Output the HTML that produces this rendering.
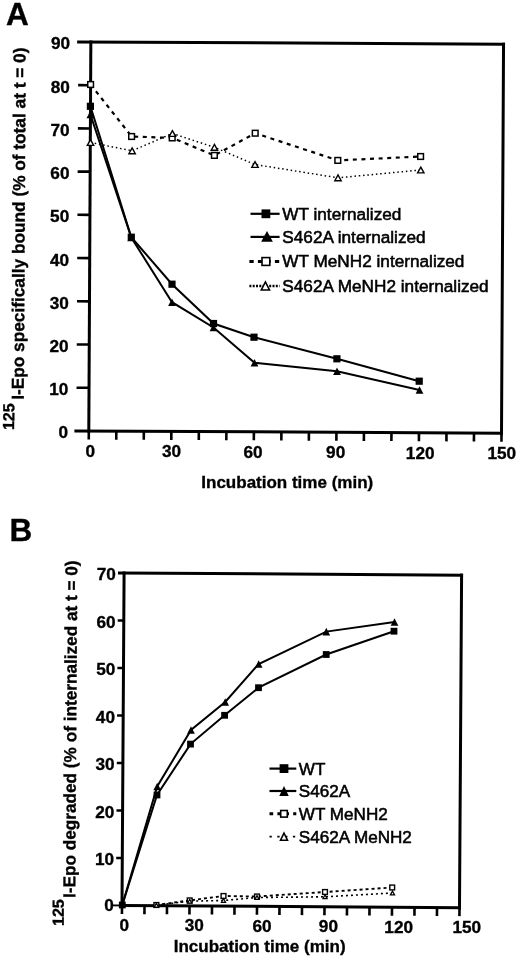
<!DOCTYPE html>
<html><head><meta charset="utf-8"><style>
html,body{margin:0;padding:0;background:#fff;}
body{width:520px;height:960px;overflow:hidden;font-family:"Liberation Sans",sans-serif;}
svg{display:block;filter:grayscale(1);}
text{stroke:#000;stroke-width:0.35px;}
.lg{stroke-width:0.55px;}
</style></head><body>
<svg width="520" height="960" viewBox="0 0 520 960">
<rect width="520" height="960" fill="#fff"/>
<line x1="88.80" y1="431.00" x2="90.84" y2="42.00" stroke="#000" stroke-width="3.0" stroke-linecap="square"/>
<line x1="501.50" y1="433.16" x2="503.54" y2="44.16" stroke="#000" stroke-width="3.0" stroke-linecap="square"/>
<line x1="78.64" y1="41.94" x2="503.54" y2="44.16" stroke="#000" stroke-width="3.0" stroke-linecap="square"/>
<line x1="75.90" y1="430.93" x2="501.50" y2="433.16" stroke="#000" stroke-width="3.0" stroke-linecap="square"/>
<line x1="76.53" y1="387.71" x2="89.03" y2="387.78" stroke="#000" stroke-width="2.6" />
<line x1="76.75" y1="344.49" x2="89.25" y2="344.56" stroke="#000" stroke-width="2.6" />
<line x1="76.98" y1="301.27" x2="89.48" y2="301.33" stroke="#000" stroke-width="2.6" />
<line x1="77.21" y1="258.05" x2="89.71" y2="258.11" stroke="#000" stroke-width="2.6" />
<line x1="77.43" y1="214.82" x2="89.93" y2="214.89" stroke="#000" stroke-width="2.6" />
<line x1="77.66" y1="171.60" x2="90.16" y2="171.67" stroke="#000" stroke-width="2.6" />
<line x1="77.88" y1="128.38" x2="90.38" y2="128.44" stroke="#000" stroke-width="2.6" />
<line x1="78.11" y1="85.16" x2="90.61" y2="85.22" stroke="#000" stroke-width="2.6" />
<line x1="88.80" y1="431.00" x2="88.76" y2="439.50" stroke="#000" stroke-width="2.6" />
<line x1="116.31" y1="431.14" x2="116.27" y2="439.64" stroke="#000" stroke-width="2.6" />
<line x1="143.83" y1="431.29" x2="143.78" y2="439.79" stroke="#000" stroke-width="2.6" />
<line x1="171.34" y1="431.43" x2="171.30" y2="439.93" stroke="#000" stroke-width="2.6" />
<line x1="198.85" y1="431.58" x2="198.81" y2="440.08" stroke="#000" stroke-width="2.6" />
<line x1="226.37" y1="431.72" x2="226.32" y2="440.22" stroke="#000" stroke-width="2.6" />
<line x1="253.88" y1="431.86" x2="253.84" y2="440.36" stroke="#000" stroke-width="2.6" />
<line x1="281.39" y1="432.01" x2="281.35" y2="440.51" stroke="#000" stroke-width="2.6" />
<line x1="308.91" y1="432.15" x2="308.86" y2="440.65" stroke="#000" stroke-width="2.6" />
<line x1="336.42" y1="432.30" x2="336.38" y2="440.80" stroke="#000" stroke-width="2.6" />
<line x1="363.93" y1="432.44" x2="363.89" y2="440.94" stroke="#000" stroke-width="2.6" />
<line x1="391.45" y1="432.58" x2="391.40" y2="441.08" stroke="#000" stroke-width="2.6" />
<line x1="418.96" y1="432.73" x2="418.92" y2="441.23" stroke="#000" stroke-width="2.6" />
<line x1="446.47" y1="432.87" x2="446.43" y2="441.37" stroke="#000" stroke-width="2.6" />
<line x1="473.99" y1="433.02" x2="473.94" y2="441.52" stroke="#000" stroke-width="2.6" />
<line x1="501.50" y1="433.16" x2="501.46" y2="441.66" stroke="#000" stroke-width="2.6" />
<text x="68.10" y="438.40" font-family="Liberation Sans, sans-serif" font-size="17.2" font-weight="bold" text-anchor="end" >0</text>
<text x="68.33" y="395.18" font-family="Liberation Sans, sans-serif" font-size="17.2" font-weight="bold" text-anchor="end" >10</text>
<text x="68.55" y="351.96" font-family="Liberation Sans, sans-serif" font-size="17.2" font-weight="bold" text-anchor="end" >20</text>
<text x="68.78" y="308.73" font-family="Liberation Sans, sans-serif" font-size="17.2" font-weight="bold" text-anchor="end" >30</text>
<text x="69.01" y="265.51" font-family="Liberation Sans, sans-serif" font-size="17.2" font-weight="bold" text-anchor="end" >40</text>
<text x="69.23" y="222.29" font-family="Liberation Sans, sans-serif" font-size="17.2" font-weight="bold" text-anchor="end" >50</text>
<text x="69.46" y="179.07" font-family="Liberation Sans, sans-serif" font-size="17.2" font-weight="bold" text-anchor="end" >60</text>
<text x="69.68" y="135.84" font-family="Liberation Sans, sans-serif" font-size="17.2" font-weight="bold" text-anchor="end" >70</text>
<text x="69.91" y="92.62" font-family="Liberation Sans, sans-serif" font-size="17.2" font-weight="bold" text-anchor="end" >80</text>
<text x="70.14" y="49.40" font-family="Liberation Sans, sans-serif" font-size="17.2" font-weight="bold" text-anchor="end" >90</text>
<text x="90.25" y="456.80" font-family="Liberation Sans, sans-serif" font-size="17.2" font-weight="bold" text-anchor="middle" >0</text>
<text x="171.55" y="457.23" font-family="Liberation Sans, sans-serif" font-size="17.2" font-weight="bold" text-anchor="middle" >30</text>
<text x="253.10" y="457.66" font-family="Liberation Sans, sans-serif" font-size="17.2" font-weight="bold" text-anchor="middle" >60</text>
<text x="335.65" y="458.10" font-family="Liberation Sans, sans-serif" font-size="17.2" font-weight="bold" text-anchor="middle" >90</text>
<text x="420.20" y="458.53" font-family="Liberation Sans, sans-serif" font-size="17.2" font-weight="bold" text-anchor="middle" >120</text>
<text x="501.80" y="458.96" font-family="Liberation Sans, sans-serif" font-size="17.2" font-weight="bold" text-anchor="middle" >150</text>
<text x="6.00" y="25.40" font-family="Liberation Sans, sans-serif" font-size="31.5" font-weight="bold" text-anchor="start" >A</text>
<text x="201.30" y="487.80" font-family="Liberation Sans, sans-serif" font-size="17" font-weight="bold" text-anchor="start" >Incubation time (min)</text>
<text transform="translate(23.8,399.8) rotate(-89.7)" font-family="Liberation Sans, sans-serif" font-size="17.25" font-weight="bold">I-Epo specifically bound (% of total at t = 0)</text>
<text transform="translate(14.1,430.1) rotate(-89.7)" font-family="Liberation Sans, sans-serif" font-size="16" font-weight="bold">125</text>
<polyline points="90.50,142.50 132.10,150.80 172.40,133.50 214.40,147.30 255.00,164.50 338.00,177.80 420.80,170.00" fill="none" stroke="#000" stroke-width="1.5" stroke-linejoin="miter" stroke-dasharray="1.5 2.8"/>
<polyline points="90.60,84.50 131.60,136.50 172.20,137.90 214.40,155.40 255.20,133.20 337.80,160.40 420.60,156.50" fill="none" stroke="#000" stroke-width="2.2" stroke-linejoin="miter" stroke-dasharray="4 4.6"/>
<polyline points="90.40,114.50 131.30,237.50 172.00,302.20 213.50,327.50 254.50,362.80 337.00,371.20 419.50,390.00" fill="none" stroke="#000" stroke-width="2.0" stroke-linejoin="miter" />
<polyline points="90.40,106.30 131.30,237.20 172.00,284.20 213.50,323.50 254.00,337.20 336.90,358.80 419.20,381.20" fill="none" stroke="#000" stroke-width="2.0" stroke-linejoin="miter" />
<polygon points="90.40,110.70 94.30,118.30 86.50,118.30" fill="#000"/>
<polygon points="131.30,233.70 135.20,241.30 127.40,241.30" fill="#000"/>
<polygon points="172.00,298.40 175.90,306.00 168.10,306.00" fill="#000"/>
<polygon points="213.50,323.70 217.40,331.30 209.60,331.30" fill="#000"/>
<polygon points="254.50,359.00 258.40,366.60 250.60,366.60" fill="#000"/>
<polygon points="337.00,367.40 340.90,375.00 333.10,375.00" fill="#000"/>
<polygon points="419.50,386.20 423.40,393.80 415.60,393.80" fill="#000"/>
<rect x="86.80" y="102.70" width="7.2" height="7.2" fill="#000"/>
<rect x="127.70" y="233.60" width="7.2" height="7.2" fill="#000"/>
<rect x="168.40" y="280.60" width="7.2" height="7.2" fill="#000"/>
<rect x="209.90" y="319.90" width="7.2" height="7.2" fill="#000"/>
<rect x="250.40" y="333.60" width="7.2" height="7.2" fill="#000"/>
<rect x="333.30" y="355.20" width="7.2" height="7.2" fill="#000"/>
<rect x="415.60" y="377.60" width="7.2" height="7.2" fill="#000"/>
<rect x="87.75" y="81.65" width="5.70" height="5.70" fill="#fff" stroke="#000" stroke-width="1.5"/>
<rect x="128.75" y="133.65" width="5.70" height="5.70" fill="#fff" stroke="#000" stroke-width="1.5"/>
<rect x="169.35" y="135.05" width="5.70" height="5.70" fill="#fff" stroke="#000" stroke-width="1.5"/>
<rect x="211.55" y="152.55" width="5.70" height="5.70" fill="#fff" stroke="#000" stroke-width="1.5"/>
<rect x="252.35" y="130.35" width="5.70" height="5.70" fill="#fff" stroke="#000" stroke-width="1.5"/>
<rect x="334.95" y="157.55" width="5.70" height="5.70" fill="#fff" stroke="#000" stroke-width="1.5"/>
<rect x="417.75" y="153.65" width="5.70" height="5.70" fill="#fff" stroke="#000" stroke-width="1.5"/>
<polygon points="90.50,139.60 93.70,145.40 87.30,145.40" fill="#fff" stroke="#000" stroke-width="1.4" stroke-linejoin="miter"/>
<polygon points="132.10,147.90 135.30,153.70 128.90,153.70" fill="#fff" stroke="#000" stroke-width="1.4" stroke-linejoin="miter"/>
<polygon points="172.40,130.60 175.60,136.40 169.20,136.40" fill="#fff" stroke="#000" stroke-width="1.4" stroke-linejoin="miter"/>
<polygon points="214.40,144.40 217.60,150.20 211.20,150.20" fill="#fff" stroke="#000" stroke-width="1.4" stroke-linejoin="miter"/>
<polygon points="255.00,161.60 258.20,167.40 251.80,167.40" fill="#fff" stroke="#000" stroke-width="1.4" stroke-linejoin="miter"/>
<polygon points="338.00,174.90 341.20,180.70 334.80,180.70" fill="#fff" stroke="#000" stroke-width="1.4" stroke-linejoin="miter"/>
<polygon points="420.80,167.10 424.00,172.90 417.60,172.90" fill="#fff" stroke="#000" stroke-width="1.4" stroke-linejoin="miter"/>
<line x1="250.50" y1="213.80" x2="279.60" y2="213.80" stroke="#000" stroke-width="2.2" />
<rect x="261.50" y="209.40" width="8.8" height="8.8" fill="#000"/>
<text x="282.30" y="220.20" font-family="Liberation Sans, sans-serif" font-size="17.2" font-weight="normal" text-anchor="start" class="lg">WT internalized</text>
<line x1="250.50" y1="236.90" x2="279.60" y2="236.90" stroke="#000" stroke-width="2.2" />
<polygon points="267.00,230.95 272.85,241.85 261.15,241.85" fill="#000"/>
<text x="282.30" y="243.00" font-family="Liberation Sans, sans-serif" font-size="17.2" font-weight="normal" text-anchor="start" class="lg">S462A internalized</text>
<line x1="249.40" y1="261.50" x2="279.60" y2="261.50" stroke="#000" stroke-width="3" stroke-dasharray="4.3 4.2"/>
<rect x="262.00" y="257.60" width="7.80" height="7.80" fill="#fff" stroke="#000" stroke-width="1.6"/>
<text x="282.30" y="267.40" font-family="Liberation Sans, sans-serif" font-size="17.2" font-weight="normal" text-anchor="start" class="lg">WT MeNH2 internalized</text>
<line x1="249.40" y1="286.00" x2="279.60" y2="286.00" stroke="#000" stroke-width="2.4" stroke-dasharray="2 1.3"/>
<polygon points="265.40,281.95 269.55,290.05 261.25,290.05" fill="#fff" stroke="#000" stroke-width="1.5" stroke-linejoin="miter"/>
<text x="282.30" y="291.90" font-family="Liberation Sans, sans-serif" font-size="17.2" font-weight="normal" text-anchor="start" class="lg">S462A MeNH2 internalized</text>
<line x1="122.00" y1="905.50" x2="124.09" y2="573.00" stroke="#000" stroke-width="3.0" stroke-linecap="square"/>
<line x1="459.50" y1="907.62" x2="461.59" y2="575.12" stroke="#000" stroke-width="3.0" stroke-linecap="square"/>
<line x1="119.49" y1="572.97" x2="461.59" y2="575.12" stroke="#000" stroke-width="3.0" stroke-linecap="square"/>
<line x1="122.00" y1="905.50" x2="459.50" y2="907.62" stroke="#000" stroke-width="3.0" stroke-linecap="square"/>
<line x1="112.60" y1="905.40" x2="122.00" y2="905.50" stroke="#000" stroke-width="1.9" />
<line x1="116.20" y1="857.96" x2="122.30" y2="858.00" stroke="#000" stroke-width="2.6" />
<line x1="116.50" y1="810.46" x2="122.60" y2="810.50" stroke="#000" stroke-width="2.6" />
<line x1="116.80" y1="762.96" x2="122.90" y2="763.00" stroke="#000" stroke-width="2.6" />
<line x1="117.09" y1="715.46" x2="123.19" y2="715.50" stroke="#000" stroke-width="2.6" />
<line x1="117.39" y1="667.96" x2="123.49" y2="668.00" stroke="#000" stroke-width="2.6" />
<line x1="117.69" y1="620.46" x2="123.79" y2="620.50" stroke="#000" stroke-width="2.6" />
<line x1="122.00" y1="905.50" x2="121.95" y2="914.00" stroke="#000" stroke-width="2.6" />
<line x1="144.50" y1="905.64" x2="144.45" y2="914.14" stroke="#000" stroke-width="2.6" />
<line x1="167.00" y1="905.78" x2="166.95" y2="914.28" stroke="#000" stroke-width="2.6" />
<line x1="189.50" y1="905.92" x2="189.45" y2="914.42" stroke="#000" stroke-width="2.6" />
<line x1="212.00" y1="906.07" x2="211.95" y2="914.57" stroke="#000" stroke-width="2.6" />
<line x1="234.50" y1="906.21" x2="234.45" y2="914.71" stroke="#000" stroke-width="2.6" />
<line x1="257.00" y1="906.35" x2="256.95" y2="914.85" stroke="#000" stroke-width="2.6" />
<line x1="279.50" y1="906.49" x2="279.45" y2="914.99" stroke="#000" stroke-width="2.6" />
<line x1="302.00" y1="906.63" x2="301.95" y2="915.13" stroke="#000" stroke-width="2.6" />
<line x1="324.50" y1="906.77" x2="324.45" y2="915.27" stroke="#000" stroke-width="2.6" />
<line x1="347.00" y1="906.91" x2="346.95" y2="915.41" stroke="#000" stroke-width="2.6" />
<line x1="369.50" y1="907.06" x2="369.45" y2="915.56" stroke="#000" stroke-width="2.6" />
<line x1="392.00" y1="907.20" x2="391.95" y2="915.70" stroke="#000" stroke-width="2.6" />
<line x1="414.50" y1="907.34" x2="414.45" y2="915.84" stroke="#000" stroke-width="2.6" />
<line x1="437.00" y1="907.48" x2="436.95" y2="915.98" stroke="#000" stroke-width="2.6" />
<line x1="459.50" y1="907.62" x2="459.45" y2="916.12" stroke="#000" stroke-width="2.6" />
<text x="124.30" y="930.90" font-family="Liberation Sans, sans-serif" font-size="17.2" font-weight="bold" text-anchor="middle" >0</text>
<text x="194.20" y="931.32" font-family="Liberation Sans, sans-serif" font-size="17.2" font-weight="bold" text-anchor="middle" >30</text>
<text x="262.00" y="931.75" font-family="Liberation Sans, sans-serif" font-size="17.2" font-weight="bold" text-anchor="middle" >60</text>
<text x="328.40" y="932.17" font-family="Liberation Sans, sans-serif" font-size="17.2" font-weight="bold" text-anchor="middle" >90</text>
<text x="398.70" y="932.60" font-family="Liberation Sans, sans-serif" font-size="17.2" font-weight="bold" text-anchor="middle" >120</text>
<text x="466.80" y="933.02" font-family="Liberation Sans, sans-serif" font-size="17.2" font-weight="bold" text-anchor="middle" >150</text>
<text x="113.80" y="911.30" font-family="Liberation Sans, sans-serif" font-size="17.2" font-weight="bold" text-anchor="end" >0</text>
<text x="114.10" y="865.00" font-family="Liberation Sans, sans-serif" font-size="17.2" font-weight="bold" text-anchor="end" >10</text>
<text x="114.40" y="817.50" font-family="Liberation Sans, sans-serif" font-size="17.2" font-weight="bold" text-anchor="end" >20</text>
<text x="114.70" y="770.00" font-family="Liberation Sans, sans-serif" font-size="17.2" font-weight="bold" text-anchor="end" >30</text>
<text x="114.99" y="722.50" font-family="Liberation Sans, sans-serif" font-size="17.2" font-weight="bold" text-anchor="end" >40</text>
<text x="115.29" y="675.00" font-family="Liberation Sans, sans-serif" font-size="17.2" font-weight="bold" text-anchor="end" >50</text>
<text x="115.59" y="627.50" font-family="Liberation Sans, sans-serif" font-size="17.2" font-weight="bold" text-anchor="end" >60</text>
<text x="115.89" y="580.00" font-family="Liberation Sans, sans-serif" font-size="17.2" font-weight="bold" text-anchor="end" >70</text>
<text x="9.60" y="540.60" font-family="Liberation Sans, sans-serif" font-size="31.5" font-weight="bold" text-anchor="start" >B</text>
<text x="173.70" y="952.30" font-family="Liberation Sans, sans-serif" font-size="17" font-weight="bold" text-anchor="start" >Incubation time (min)</text>
<text transform="translate(75.2,898) rotate(-89.64)" font-family="Liberation Sans, sans-serif" font-size="17.2" font-weight="bold">I-Epo degraded (% of internalized at t = 0)</text>
<text transform="translate(63.75,926) rotate(-89.64)" font-family="Liberation Sans, sans-serif" font-size="16" font-weight="bold">125</text>
<polyline points="156.40,905.20 189.70,901.20 223.50,900.50 257.00,897.50 325.00,896.80 392.50,893.00" fill="none" stroke="#000" stroke-width="1.6" stroke-linejoin="miter" stroke-dasharray="2 3"/>
<polyline points="156.40,905.00 189.70,900.40 223.50,896.00 257.00,896.50 325.00,892.00 392.20,887.50" fill="none" stroke="#000" stroke-width="1.9" stroke-linejoin="miter" stroke-dasharray="3 3"/>
<polyline points="122.30,905.00 157.20,786.50 191.00,730.00 225.20,702.00 258.70,664.00 326.30,631.60 394.50,622.00" fill="none" stroke="#000" stroke-width="2.0" stroke-linejoin="miter" />
<polyline points="122.30,905.00 157.00,795.00 190.50,744.10 224.60,715.30 258.50,687.70 326.20,654.50 394.00,631.20" fill="none" stroke="#000" stroke-width="2.0" stroke-linejoin="miter" />
<polygon points="157.20,782.70 161.00,790.30 153.40,790.30" fill="#000"/>
<polygon points="191.00,726.20 194.80,733.80 187.20,733.80" fill="#000"/>
<polygon points="225.20,698.20 229.00,705.80 221.40,705.80" fill="#000"/>
<polygon points="258.70,660.20 262.50,667.80 254.90,667.80" fill="#000"/>
<polygon points="326.30,627.80 330.10,635.40 322.50,635.40" fill="#000"/>
<polygon points="394.50,618.20 398.30,625.80 390.70,625.80" fill="#000"/>
<rect x="118.90" y="901.60" width="6.8" height="6.8" fill="#000"/>
<rect x="153.60" y="791.60" width="6.8" height="6.8" fill="#000"/>
<rect x="187.10" y="740.70" width="6.8" height="6.8" fill="#000"/>
<rect x="221.20" y="711.90" width="6.8" height="6.8" fill="#000"/>
<rect x="255.10" y="684.30" width="6.8" height="6.8" fill="#000"/>
<rect x="322.80" y="651.10" width="6.8" height="6.8" fill="#000"/>
<rect x="390.60" y="627.80" width="6.8" height="6.8" fill="#000"/>
<rect x="154.00" y="902.60" width="4.80" height="4.80" fill="#fff" stroke="#000" stroke-width="1.4"/>
<rect x="187.30" y="898.00" width="4.80" height="4.80" fill="#fff" stroke="#000" stroke-width="1.4"/>
<rect x="221.10" y="893.60" width="4.80" height="4.80" fill="#fff" stroke="#000" stroke-width="1.4"/>
<rect x="254.60" y="894.10" width="4.80" height="4.80" fill="#fff" stroke="#000" stroke-width="1.4"/>
<rect x="322.60" y="889.60" width="4.80" height="4.80" fill="#fff" stroke="#000" stroke-width="1.4"/>
<rect x="389.80" y="885.10" width="4.80" height="4.80" fill="#fff" stroke="#000" stroke-width="1.4"/>
<polygon points="156.40,903.30 158.50,907.10 154.30,907.10" fill="#fff" stroke="#000" stroke-width="1.2" stroke-linejoin="miter"/>
<polygon points="189.70,899.30 191.80,903.10 187.60,903.10" fill="#fff" stroke="#000" stroke-width="1.2" stroke-linejoin="miter"/>
<polygon points="223.50,898.60 225.60,902.40 221.40,902.40" fill="#fff" stroke="#000" stroke-width="1.2" stroke-linejoin="miter"/>
<polygon points="257.00,895.60 259.10,899.40 254.90,899.40" fill="#fff" stroke="#000" stroke-width="1.2" stroke-linejoin="miter"/>
<polygon points="325.00,894.90 327.10,898.70 322.90,898.70" fill="#fff" stroke="#000" stroke-width="1.2" stroke-linejoin="miter"/>
<polygon points="392.50,891.10 394.60,894.90 390.40,894.90" fill="#fff" stroke="#000" stroke-width="1.2" stroke-linejoin="miter"/>
<line x1="269.50" y1="768.60" x2="296.30" y2="768.60" stroke="#000" stroke-width="2.2" />
<rect x="279.60" y="764.20" width="8.8" height="8.8" fill="#000"/>
<text x="298.80" y="775.30" font-family="Liberation Sans, sans-serif" font-size="17.1" font-weight="normal" text-anchor="start" class="lg">WT</text>
<line x1="269.50" y1="791.00" x2="296.30" y2="791.00" stroke="#000" stroke-width="2.2" />
<polygon points="284.00,786.00 288.75,796.00 279.25,796.00" fill="#000"/>
<text x="298.80" y="797.40" font-family="Liberation Sans, sans-serif" font-size="17.1" font-weight="normal" text-anchor="start" class="lg">S462A</text>
<line x1="269.50" y1="813.80" x2="296.30" y2="813.80" stroke="#000" stroke-width="3" stroke-dasharray="3.7 4.2"/>
<rect x="280.70" y="810.50" width="6.60" height="6.60" fill="#fff" stroke="#000" stroke-width="1.6"/>
<text x="298.80" y="820.30" font-family="Liberation Sans, sans-serif" font-size="17.1" font-weight="normal" text-anchor="start" class="lg">WT MeNH2</text>
<line x1="269.50" y1="836.70" x2="296.30" y2="836.70" stroke="#000" stroke-width="1.8" stroke-dasharray="2.3 5.5"/>
<polygon points="284.00,833.05 287.55,840.35 280.45,840.35" fill="#fff" stroke="#000" stroke-width="1.5" stroke-linejoin="miter"/>
<text x="298.80" y="843.00" font-family="Liberation Sans, sans-serif" font-size="17.1" font-weight="normal" text-anchor="start" class="lg">S462A MeNH2</text>
</svg>
</body></html>
